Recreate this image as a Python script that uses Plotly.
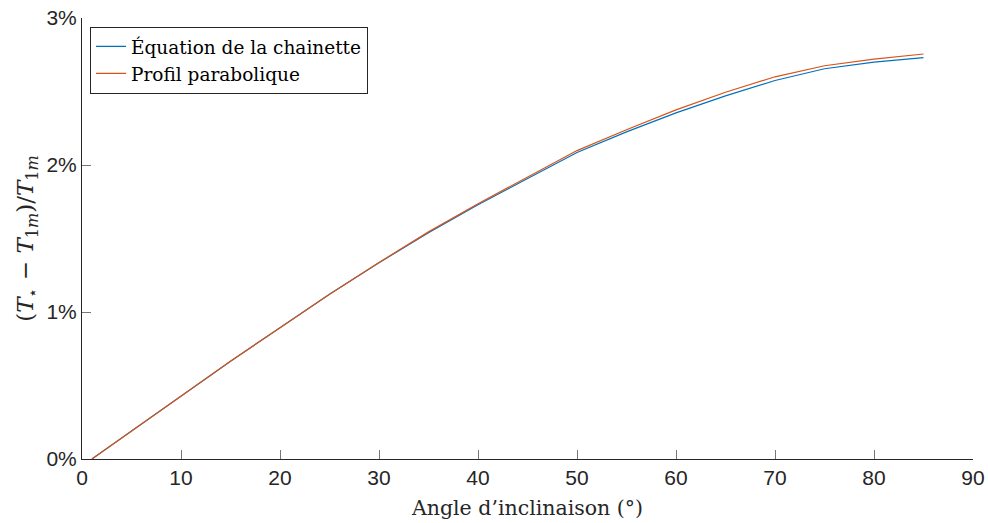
import plotly.graph_objects as go

angles = [1, 5, 10, 15, 20, 25, 30, 35, 40, 45, 50, 55, 60, 65, 70, 75, 80, 85]
chainette = [0.0, 0.19, 0.43, 0.665, 0.893, 1.12, 1.335, 1.54, 1.73, 1.905, 2.085,
             2.225, 2.355, 2.47, 2.575, 2.655, 2.70, 2.73]
parabolique = [0.0, 0.19, 0.43, 0.665, 0.893, 1.12, 1.337, 1.545, 1.737, 1.917, 2.098,
               2.24, 2.375, 2.495, 2.60, 2.675, 2.72, 2.755]
x_ticks = [0, 10, 20, 30, 40, 50, 60, 70, 80, 90]
y_ticks = [0, 1, 2, 3]
y_tick_labels = ["0%", "1%", "2%", "3%"]

serif = "DejaVu Serif, Liberation Serif, serif"
sans = "Liberation Sans, Arial, sans-serif"

fig = go.Figure()
fig.add_trace(go.Scatter(x=angles, y=chainette, mode="lines",
                         name="Équation de la chainette",
                         line=dict(color="#0072BD", width=1.2)))
fig.add_trace(go.Scatter(x=angles, y=parabolique, mode="lines",
                         name="Profil parabolique",
                         line=dict(color="#D95319", width=1.2)))

axis_common = dict(showgrid=False, zeroline=False, showline=True,
                   linecolor="#262626", linewidth=1, ticks="inside",
                   ticklen=9, tickcolor="#777777", tickwidth=1.2,
                   automargin=False,
                   tickfont=dict(family=sans, size=21, color="#262626"))

fig.update_layout(
    width=988, height=523,
    margin=dict(l=82, r=15, t=18, b=64),
    plot_bgcolor="white", paper_bgcolor="white",
    xaxis=dict(range=[0, 90], tickvals=x_ticks,
               title=dict(text="Angle d\u2019inclinaison (°)",
                          font=dict(family=serif, size=20.5, color="#262626"),
                          standoff=12),
               **axis_common),
    yaxis=dict(range=[0, 3], tickvals=y_ticks, ticktext=y_tick_labels,
               title=dict(text="(<i>T</i><sub>⋆</sub> − <i>T</i><sub>1<i>m</i></sub>)/<i>T</i><sub>1<i>m</i></sub>",
                          font=dict(family=serif, size=23, color="#262626"),
                          standoff=6),
               **axis_common),
    legend=dict(x=0.009, y=0.98, xanchor="left", yanchor="top",
                bgcolor="white", bordercolor="#262626", borderwidth=1,
                font=dict(family=serif, size=18.5, color="#000000"),
                tracegroupgap=0, itemwidth=30),
    showlegend=True,
)

fig.write_html("out.html")
